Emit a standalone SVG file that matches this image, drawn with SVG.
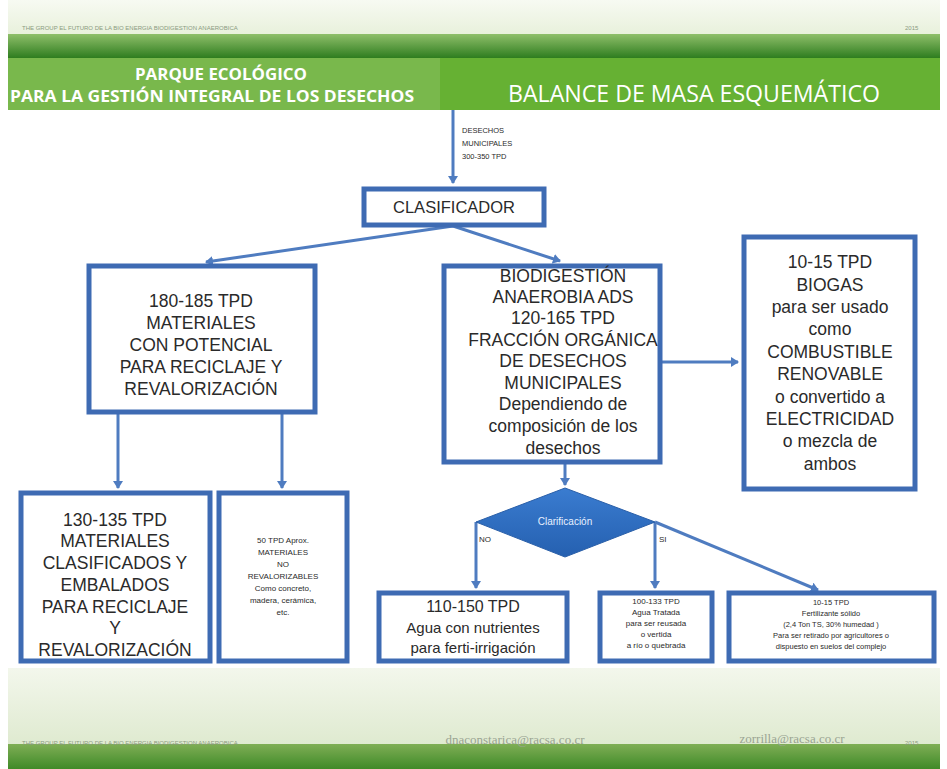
<svg xmlns="http://www.w3.org/2000/svg" width="947" height="769" viewBox="0 0 947 769">
<defs>
<linearGradient id="topBg" x1="0" y1="0" x2="0" y2="1"><stop offset="0" stop-color="#f7faf2"/><stop offset="1" stop-color="#e6efd8"/></linearGradient>
<linearGradient id="band" x1="0" y1="0" x2="0" y2="1"><stop offset="0" stop-color="#8fbf6a"/><stop offset="1" stop-color="#2e7d1f"/></linearGradient>
<linearGradient id="foot" x1="0" y1="0" x2="0" y2="1"><stop offset="0" stop-color="#f3f7ec"/><stop offset="1" stop-color="#dfead0"/></linearGradient>
<linearGradient id="footBand" x1="0" y1="0" x2="0" y2="1"><stop offset="0" stop-color="#7fae55"/><stop offset="1" stop-color="#3f8a28"/></linearGradient>
<linearGradient id="dia" x1="0" y1="0" x2="0" y2="1"><stop offset="0" stop-color="#3a7cd0"/><stop offset="1" stop-color="#2560b0"/></linearGradient>
<marker id="ah" markerWidth="10" markerHeight="10" refX="7" refY="5" orient="auto" markerUnits="userSpaceOnUse"><path d="M0,0 L8,5 L0,10 z" fill="#4f7cc0"/></marker>
<style>
.box{fill:#ffffff;stroke:#3e6bb3;stroke-width:5}
.t{font-family:"Liberation Sans",Arial,sans-serif;fill:#2a2a2a;text-anchor:middle}
.ts{font-family:"Liberation Sans",Arial,sans-serif;fill:#2a2a2a;text-anchor:start}
.big{font-size:17.5px}
.sm{font-size:8px}
.xs{font-size:7.5px}
.ln{stroke:#4f7cc0;stroke-width:3;fill:none}
.hdr{font-family:"Liberation Sans",Arial,sans-serif;font-size:6px;fill:#8a9a80}
.ttl{font-family:"Open Sans","Liberation Sans",sans-serif;fill:#ffffff;text-anchor:middle}
</style>
</defs>
<rect x="0" y="0" width="947" height="769" fill="#ffffff"/>
<rect x="8" y="0" width="932" height="40" fill="url(#topBg)"/>
<rect x="8" y="34" width="932" height="24" fill="url(#band)"/>
<rect x="8" y="58" width="432" height="52" fill="#79b84c"/>
<rect x="440" y="58" width="500" height="52" fill="#66b133"/>
<text class="hdr" x="22" y="30">THE GROUP   EL FUTURO DE LA BIO ENERGIA   BIODIGESTION ANAEROBICA</text>
<text class="hdr" x="905" y="30">2015</text>
<text class="ttl" x="221" y="80" font-size="16" font-weight="bold" textLength="172" lengthAdjust="spacingAndGlyphs">PARQUE ECOLÓGICO</text>
<text class="ttl" x="212" y="102" font-size="16" font-weight="bold" textLength="404" lengthAdjust="spacingAndGlyphs">PARA LA GESTIÓN INTEGRAL DE LOS DESECHOS</text>
<text class="ttl" x="694" y="102" font-size="23" textLength="372" lengthAdjust="spacingAndGlyphs">BALANCE DE MASA ESQUEMÁTICO</text>
<rect x="8" y="668" width="932" height="76" fill="url(#foot)"/>
<rect x="8" y="744" width="932" height="25" fill="url(#footBand)"/>
<text class="hdr" x="22" y="745">THE GROUP   EL FUTURO DE LA BIO ENERGIA   BIODIGESTION ANAEROBICA</text>
<text x="515" y="744" font-family="Liberation Serif,serif" font-size="13" fill="#9aa493" text-anchor="middle">dnaconstarica@racsa.co.cr</text>
<text x="792" y="743" font-family="Liberation Serif,serif" font-size="13" fill="#9aa493" text-anchor="middle">zorrilla@racsa.co.cr</text>
<text class="hdr" x="905" y="745">2015</text>
<g id="connectors">
<line class="ln" x1="453" y1="110" x2="453" y2="183" marker-end="url(#ah)"/>
<text class="ts" x="462" y="133" font-size="7.5">DESECHOS</text>
<text class="ts" x="462" y="146" font-size="7.5">MUNICIPALES</text>
<text class="ts" x="462" y="159" font-size="7.5">300-350 TPD</text>
<line class="ln" x1="453" y1="226" x2="206" y2="262" marker-end="url(#ah)"/>
<line class="ln" x1="453" y1="226" x2="560" y2="261" marker-end="url(#ah)"/>
<line class="ln" x1="662" y1="362" x2="738" y2="362" marker-end="url(#ah)"/>
<line class="ln" x1="118" y1="414" x2="118" y2="488" marker-end="url(#ah)"/>
<line class="ln" x1="282" y1="414" x2="282" y2="488" marker-end="url(#ah)"/>
<line class="ln" x1="565" y1="464" x2="565" y2="485" marker-end="url(#ah)"/>
<line class="ln" x1="476" y1="522" x2="476" y2="588" marker-end="url(#ah)"/>
<line class="ln" x1="655" y1="522" x2="655" y2="588" marker-end="url(#ah)"/>
<line class="ln" x1="655" y1="522" x2="818" y2="590" marker-end="url(#ah)"/>
<text class="ts" x="479" y="542" font-size="8">NO</text>
<text class="ts" x="659" y="542" font-size="8">SI</text>
</g>
<g id="clasificador">
<rect class="box" x="364" y="189" width="180" height="36" stroke-width="6"/>
<text class="t" x="454" y="213" font-size="16.5">CLASIFICADOR</text>
</g>
<g id="materiales">
<rect class="box" x="89" y="266" width="226" height="146"/>
<text class="t big" x="201" y="307">180-185 TPD</text>
<text class="t big" x="201" y="329">MATERIALES</text>
<text class="t big" x="201" y="351">CON POTENCIAL</text>
<text class="t big" x="201" y="373">PARA RECICLAJE Y</text>
<text class="t big" x="201" y="395">REVALORIZACIÓN</text>
</g>
<g id="biodigestion">
<rect class="box" x="444" y="266" width="216" height="196"/>
<text class="t big" x="563" y="282">BIODIGESTIÓN</text>
<text class="t big" x="563" y="303">ANAEROBIA ADS</text>
<text class="t big" x="563" y="324">120-165 TPD</text>
<text class="t big" x="563" y="346">FRACCIÓN ORGÁNICA</text>
<text class="t big" x="563" y="367">DE DESECHOS</text>
<text class="t big" x="563" y="389">MUNICIPALES</text>
<text class="t big" x="563" y="410">Dependiendo de</text>
<text class="t big" x="563" y="432">composición de los</text>
<text class="t big" x="563" y="454">desechos</text>
</g>
<g id="biogas">
<rect class="box" x="744" y="237" width="171" height="252"/>
<text class="t big" x="830" y="268">10-15 TPD</text>
<text class="t big" x="830" y="291">BIOGAS</text>
<text class="t big" x="830" y="313">para ser usado</text>
<text class="t big" x="830" y="335">como</text>
<text class="t big" x="830" y="358">COMBUSTIBLE</text>
<text class="t big" x="830" y="380">RENOVABLE</text>
<text class="t big" x="830" y="403">o convertido a</text>
<text class="t big" x="830" y="425">ELECTRICIDAD</text>
<text class="t big" x="830" y="447">o mezcla de</text>
<text class="t big" x="830" y="470">ambos</text>
</g>
<g id="clasificados">
<rect class="box" x="21" y="493" width="189" height="168"/>
<text class="t big" x="115" y="526">130-135 TPD</text>
<text class="t big" x="115" y="547">MATERIALES</text>
<text class="t big" x="115" y="569">CLASIFICADOS Y</text>
<text class="t big" x="115" y="591">EMBALADOS</text>
<text class="t big" x="115" y="613">PARA RECICLAJE</text>
<text class="t big" x="115" y="634">Y</text>
<text class="t big" x="115" y="656">REVALORIZACIÓN</text>
</g>
<g id="no-revalorizables">
<rect class="box" x="219" y="493" width="128" height="168"/>
<text class="t sm" x="283" y="543">50 TPD Aprox.</text>
<text class="t sm" x="283" y="555">MATERIALES</text>
<text class="t sm" x="283" y="567">NO</text>
<text class="t sm" x="283" y="579">REVALORIZABLES</text>
<text class="t sm" x="283" y="591">Como concreto,</text>
<text class="t sm" x="283" y="603">madera, cerámica,</text>
<text class="t sm" x="283" y="615">etc.</text>
</g>
<g id="clarificacion">
<polygon points="565,488 655,522 565,557 476,522" fill="url(#dia)" stroke="#2a5fa8" stroke-width="1"/>
<text x="565" y="525" font-family="Liberation Sans,Arial,sans-serif" font-size="10" fill="#e8f0ff" text-anchor="middle">Clarificación</text>
</g>
<g id="agua-nutrientes">
<rect class="box" x="379" y="593" width="188" height="68"/>
<text class="t" x="473" y="612" font-size="16">110-150 TPD</text>
<text class="t" x="473" y="633" font-size="15">Agua con nutrientes</text>
<text class="t" x="473" y="653" font-size="15">para ferti-irrigación</text>
</g>
<g id="agua-tratada">
<rect class="box" x="600" y="593" width="112" height="68" stroke-width="4"/>
<text class="t sm" x="656" y="604">100-133 TPD</text>
<text class="t sm" x="656" y="615">Agua Tratada</text>
<text class="t sm" x="656" y="626">para ser reusada</text>
<text class="t sm" x="656" y="637">o vertida</text>
<text class="t sm" x="656" y="648">a río o quebrada</text>
</g>
<g id="fertilizante">
<rect class="box" x="729" y="593" width="205" height="68" stroke-width="4"/>
<text class="t xs" x="831" y="605">10-15 TPD</text>
<text class="t xs" x="831" y="616">Fertilizante sólido</text>
<text class="t xs" x="831" y="627">(2,4 Ton TS, 30% humedad )</text>
<text class="t xs" x="831" y="638">Para ser retirado por agricultores o</text>
<text class="t xs" x="831" y="649">dispuesto en suelos del complejo</text>
</g>
</svg>
